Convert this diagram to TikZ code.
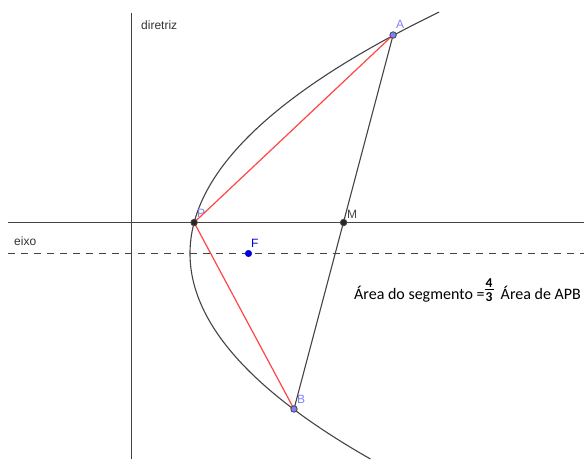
\documentclass[tikz,border=0pt]{standalone}
\usepackage{fontspec}
\setmainfont{Liberation Sans}
\newfontfamily\calib{Carlito}
\definecolor{ggline}{HTML}{444444}
\definecolor{ggred}{HTML}{FF4545}
\definecolor{gglav}{HTML}{7F7FFF}
\definecolor{ggblue}{HTML}{0000E0}
\newcommand{\myfracbox}[2]{\raisebox{-2.5pt}{\vbox{\hbox to 9pt{\hss#1\hss}\kern1.5pt\hrule height 1pt\kern2.2pt\hbox to 9pt{\hss#2\hss}}}}
\begin{document}
\begin{tikzpicture}[x=1pt,y=-1pt,
  baseline/.style={draw=ggline,line width=1.1pt},
  axisline/.style={draw=ggline,line width=1.1pt,dash pattern=on 7pt off 6pt},
  curve/.style={draw=ggline,line width=1.1pt},
  redseg/.style={draw=ggred,line width=1.2pt},
  chord/.style={draw=ggline,line width=1.1pt},
  lavpt/.style={circle,draw=ggline,fill=gglav,line width=0.8pt,inner sep=0pt,minimum size=6.5pt},
  blkpt/.style={circle,draw=ggline,fill=black!85,line width=0.8pt,inner sep=0pt,minimum size=6.5pt},
  bluept/.style={circle,draw=ggblue,fill=ggblue,inner sep=0pt,minimum size=6.5pt},
  lbl/.style={inner sep=0pt,font=\fontsize{12}{14}\selectfont}]
\useasboundingbox (0,0) rectangle (584,459);
\fill[white] (0,0) rectangle (584,459);
% lines
\coordinate (dtop) at (131.5,13);
\coordinate (dbot) at (131.5,459);
\coordinate (hl) at (8,222.5);
\coordinate (hr) at (584,222.5);
\coordinate (el) at (8,253.5);
\coordinate (er) at (584,253.5);
\draw[baseline] (dtop) -- (dbot);
\draw[baseline] (hl) -- (hr);
\draw[axisline] (el) -- (er);
% parabola
\draw[curve] plot[variable=\t,domain=12:459,samples=150] ({190+((\t-253.5)/15.297)^2},\t);
% points
\coordinate (cA) at (393.1,35);
\coordinate (cB) at (294,409);
\coordinate (cP) at (194.1,222.5);
\coordinate (cM) at (343.6,222.5);
\coordinate (cF) at (248.5,253.5);
\draw[redseg] (cP) -- (cA);
\draw[redseg] (cP) -- (cB);
\draw[chord] (cA) -- (cB);
\node[lavpt] (A) at (cA) {};
\node[lavpt] (B) at (cB) {};
\node[blkpt] (P) at (cP) {};
\node[blkpt] (M) at (cM) {};
\node[bluept] (F) at (cF) {};
% labels
\node[lbl,text=gglav,anchor=base west] (lA) at (396,28) {A};
\node[lbl,text=gglav,anchor=base west] (lB) at (297,403) {B};
\node[lbl,text=gglav!70!gray,anchor=base west] (lP) at (197,217) {P};
\node[lbl,text=ggline,anchor=base west] (lM) at (347,218) {M};
\node[lbl,text=ggblue,anchor=base west] (lF) at (251,247) {F};
\node[lbl,text=black!80,anchor=base west] (ldir) at (141,29) {diretriz};
\node[lbl,text=black!80,anchor=base west] (leixo) at (14,245) {eixo};
\node[inner sep=0pt,anchor=base west,font=\calib\fontsize{16}{18}\selectfont] (area) at (354,299)
  {Área do segmento =\myfracbox{\bfseries\fontsize{13.5}{14}\selectfont 4}{\bfseries\fontsize{13.5}{14}\selectfont 3}\ \ Área de APB};
\end{tikzpicture}
\end{document}
